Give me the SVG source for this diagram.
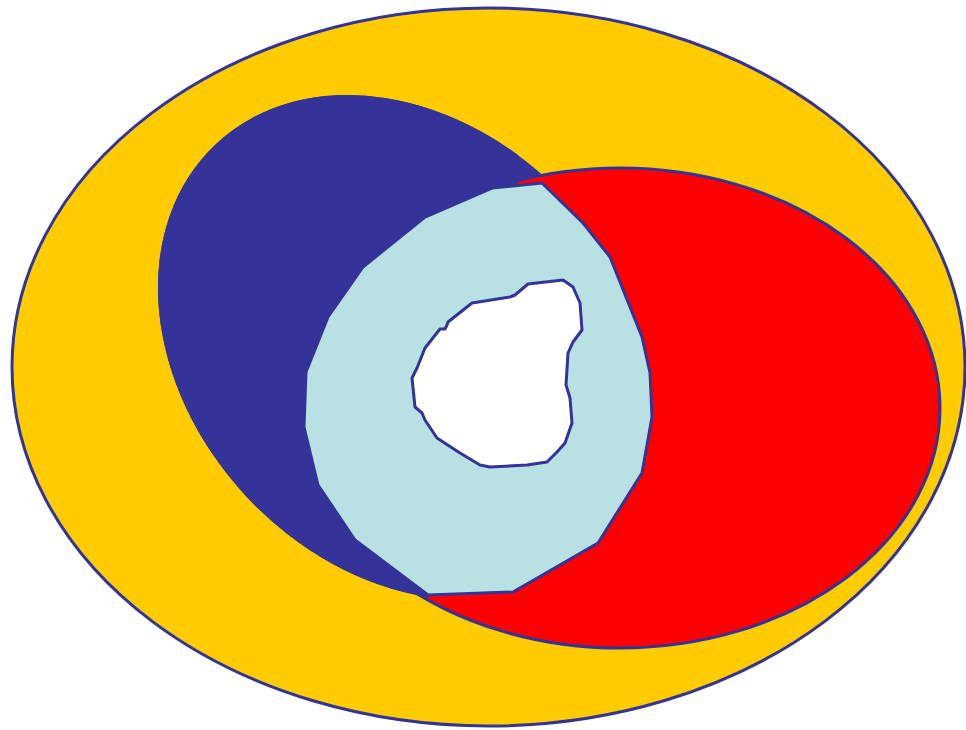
<svg xmlns="http://www.w3.org/2000/svg" width="966" height="730" viewBox="0 0 966 730">
<style>
.st{stroke:#333399;stroke-width:3;stroke-linejoin:round}
.db{fill:#333399}
</style>
<defs>
<clipPath id="leftside">
<polygon points="518,0 518,184 492,188 425,217 363,267 328,317 306,372 304,427 318,485 355,540 428,595 428,730 0,730 0,0"/>
</clipPath>
<ellipse id="blueShape" cx="0" cy="0" rx="278.7" ry="218.7" transform="translate(406.5 347.5) rotate(46.9)"/>
</defs>
<rect width="966" height="730" fill="#ffffff"/>
<g id="outer">
<ellipse cx="488.5" cy="367" rx="476.5" ry="359" fill="#FFCC00" class="st"/>
</g>
<g id="blue">
<use href="#blueShape" class="db"/>
</g>
<g id="red">
<ellipse cx="620" cy="408" rx="320" ry="240" fill="#FF0000" class="st"/>
</g>
<g id="blue-over">
<use href="#blueShape" class="db" clip-path="url(#leftside)"/>
</g>
<g id="lens">
<polygon points="542,183 583,223 610,257 642,337 650,373 652,417 642,473 598,543 513,592 428,595 355,540 318,485 304,427 306,372 328,317 363,267 425,217 492,188" fill="#B9E0E3" class="st"/>
</g>
<g id="hole">
<path d="M515,295 L528,284 L563,280 L573,287 L580,303 L582,330 L573,342 L568,353 L566,385 L570,398 L572,423 L565,443 L557,452 L547,462 L527,465 L490,467 L480,465 L460,453 L437,438 L425,420 L422,413 L415,407 L412,378 L417,368 L425,348 L440,329 L445,329 L447,325 L448,322 L472,303 L510,297 Z" fill="#ffffff" class="st"/>
</g>
</svg>
